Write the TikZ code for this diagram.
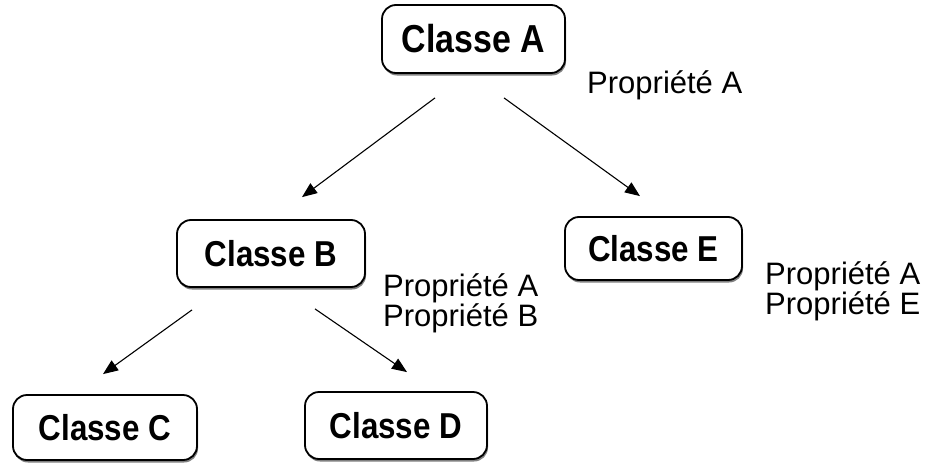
\documentclass[tikz,border=0pt]{standalone}
\usepackage{fontspec}
\setmainfont{Liberation Sans}
\newfontfamily\boxfont{Liberation Sans Bold}[FakeStretch=0.87]
\usetikzlibrary{arrows.meta,shadows}

\tikzset{
  classbox/.style={draw=black, line width=1.8pt, rounded corners=14pt, fill=white,
    inner sep=0pt, font=\boxfont\fontsize{36}{40}\selectfont,
    drop shadow={shadow xshift=1pt, shadow yshift=-2.5pt, fill=black!50, opacity=1}},
  proptext/.style={anchor=base west, inner sep=0pt, font=\fontsize{31}{31}\selectfont},
  inherit/.style={draw=black, line width=1.1pt, -{Triangle[length=15pt,width=12pt]}}
}

\begin{document}
\begin{tikzpicture}[x=1pt, y=-1pt]
  \useasboundingbox[fill=white] (0,0) rectangle (929,463);

  % class boxes
  \node[classbox, minimum width=183pt, minimum height=68pt,
        font=\boxfont\fontsize{39}{42}\selectfont] (A) at (473.5,39) {Classe A};
  \node[classbox, minimum width=188pt, minimum height=67pt] (B) at (271,253.5) {Classe B};
  \node[classbox, minimum width=177pt, minimum height=63pt] (E) at (653.5,248.5) {Classe E};
  \node[classbox, minimum width=184pt, minimum height=65pt] (C) at (105,427.5) {Classe C};
  \node[classbox, minimum width=182pt, minimum height=67pt] (D) at (396,425.5) {Classe D};

  % inherited properties
  \node[proptext] (pA) at (587,93) {Propriété A};
  \node[proptext] (pB1) at (383,296) {Propriété A};
  \node[proptext] (pB2) at (383,326) {Propriété B};
  \node[proptext] (pE1) at (765,284) {Propriété A};
  \node[proptext] (pE2) at (765,314) {Propriété E};

  % inheritance arrows
  \draw[inherit] ([shift={(-38.5,24)}]A.south) -- ([shift={(31,-22)}]B.north);
  \draw[inherit] ([shift={(30.5,24)}]A.south) -- ([shift={(-13.5,-20)}]E.north);
  \draw[inherit] ([shift={(-79,22)}]B.south) -- ([shift={(-2,-20)}]C.north);
  \draw[inherit] ([shift={(44,21)}]B.south) -- ([shift={(11,-19)}]D.north);
\end{tikzpicture}
\end{document}
